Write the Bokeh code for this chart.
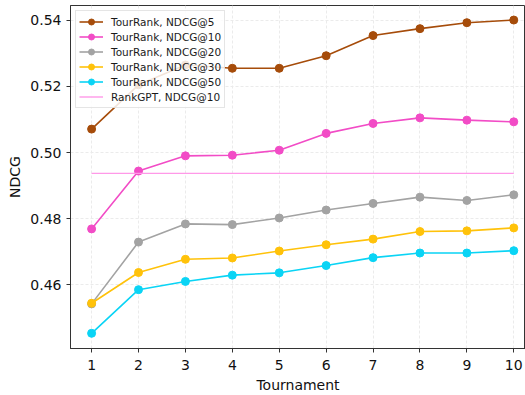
from bokeh.plotting import figure
from bokeh.models import Range1d, FixedTicker, CustomJSTickFormatter
from bokeh.embed import file_html
from bokeh.resources import INLINE

tournaments = [1, 2, 3, 4, 5, 6, 7, 8, 9, 10]
ndcg5 = [0.5071, 0.5205, 0.5265, 0.5255, 0.5255, 0.5293, 0.5354, 0.5375, 0.5393, 0.5401]
ndcg10 = [0.4769, 0.4944, 0.4990, 0.4992, 0.5007, 0.5058, 0.5088, 0.5105, 0.5098, 0.5093]
ndcg20 = [0.4542, 0.4729, 0.4784, 0.4782, 0.4802, 0.4826, 0.4846, 0.4865, 0.4855, 0.4872]
ndcg30 = [0.4544, 0.4637, 0.4677, 0.4681, 0.4702, 0.4721, 0.4738, 0.4761, 0.4763, 0.4772]
ndcg50 = [0.4453, 0.4585, 0.4610, 0.4629, 0.4636, 0.4658, 0.4682, 0.4696, 0.4696, 0.4703]
rankgpt_ndcg10 = 0.4937
y_ticks = [0.46, 0.48, 0.50, 0.52, 0.54]

series = [
    ("TourRank, NDCG@5", ndcg5, "#a64c0a"),
    ("TourRank, NDCG@10", ndcg10, "#f24cc6"),
    ("TourRank, NDCG@20", ndcg20, "#a3a3a3"),
    ("TourRank, NDCG@30", ndcg30, "#ffc20a"),
    ("TourRank, NDCG@50", ndcg50, "#0ad4f5"),
]

p = figure(width=525, height=395, output_backend="svg", toolbar_location=None,
           x_range=Range1d(0.55, 10.25), y_range=Range1d(0.4407, 0.5445),
           min_border_left=70, min_border_right=0, min_border_top=5, min_border_bottom=42)

for label, vals, color in series:
    p.line(tournaments, vals, line_color=color, line_width=1.6, legend_label=label)
    p.scatter(tournaments, vals, size=8, fill_color=color, line_color=color, legend_label=label)

p.line([tournaments[0], tournaments[-1]], [rankgpt_ndcg10, rankgpt_ndcg10],
       line_color="#ff99e8", line_width=1.4, legend_label="RankGPT, NDCG@10")

font = "DejaVu Sans"
for ax in (p.xaxis[0], p.yaxis[0]):
    ax.major_label_text_font = font
    ax.major_label_text_font_size = "14px"
    ax.major_label_text_color = "#111111"
    ax.axis_label_text_font = font
    ax.axis_label_text_font_size = "14px"
    ax.axis_label_text_font_style = "normal"
    ax.axis_label_text_color = "#111111"
    ax.minor_tick_line_color = None
    ax.major_tick_out = 4
    ax.major_tick_in = 0
    ax.axis_line_color = "#333333"
    ax.major_tick_line_color = "#333333"
    ax.axis_label_standoff = 4

p.xaxis.axis_label = "Tournament"
p.yaxis.axis_label = "NDCG"
p.xaxis.ticker = FixedTicker(ticks=tournaments)
p.yaxis.ticker = FixedTicker(ticks=y_ticks)
p.yaxis.formatter = CustomJSTickFormatter(code="return tick.toFixed(2);")
p.xaxis.major_label_standoff = 7

p.outline_line_color = "#333333"
p.outline_line_width = 1
p.grid.grid_line_color = "#ebebeb"
p.grid.grid_line_dash = "3 2"

p.legend.location = "top_left"
p.legend.label_text_font = font
p.legend.label_text_font_size = "10.5px"
p.legend.label_text_color = "#1a1a1a"
p.legend.label_height = 15
p.legend.glyph_height = 15
p.legend.glyph_width = 24
p.legend.spacing = 0
p.legend.padding = 3
p.legend.margin = 5
p.legend.border_line_color = "#cccccc"
p.legend.background_fill_alpha = 0.85
p.legend.label_standoff = 8

open("out.html", "w").write(file_html(p, INLINE))
